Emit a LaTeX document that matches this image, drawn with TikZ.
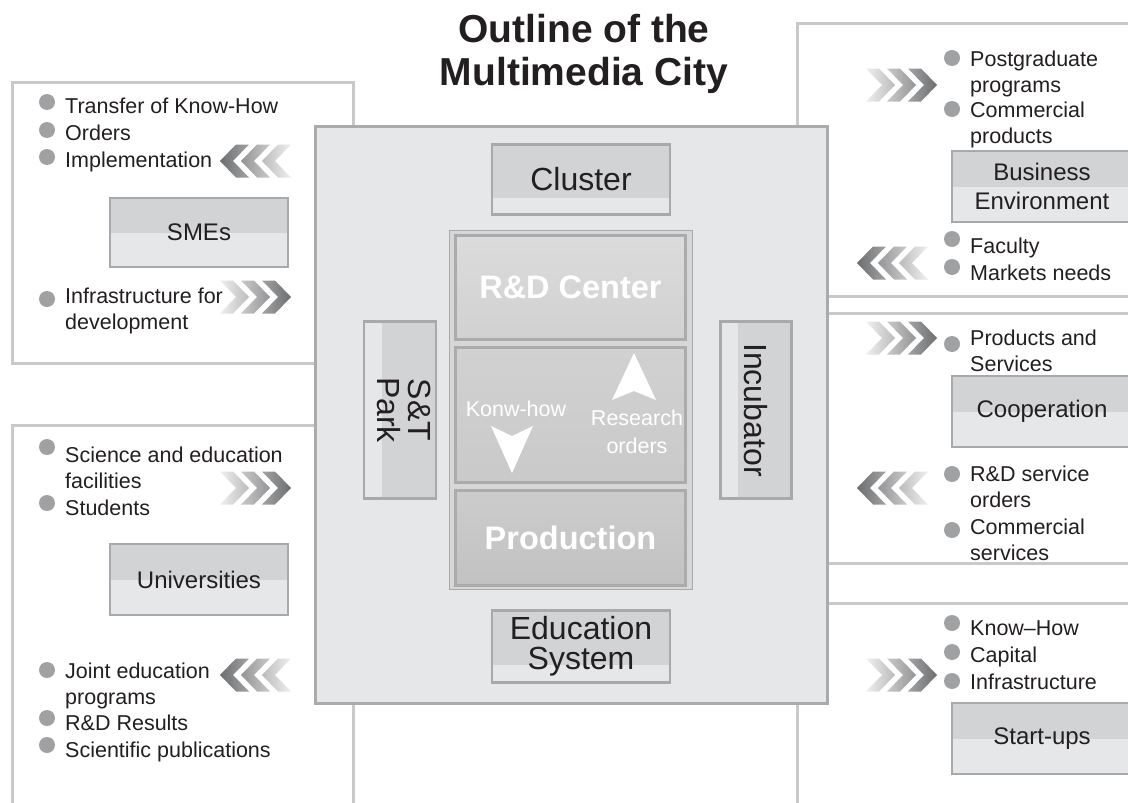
\documentclass[tikz,border=0pt]{standalone}
\usepackage{fontspec}
\setmainfont{Liberation Sans}
\usepackage{graphicx}
\usetikzlibrary{calc,positioning}

\definecolor{inkblack}{HTML}{231F20}
\definecolor{framegray}{HTML}{C8C9CA}
\definecolor{boxline}{HTML}{A7A9AC}
\definecolor{boxup}{HTML}{D1D3D4}
\definecolor{boxlow}{HTML}{E6E7E8}
\definecolor{cityfill}{HTML}{E6E7E8}
\definecolor{panelgray}{HTML}{D7D7D8}
\definecolor{coreline}{HTML}{ABABAB}
\definecolor{bulletgray}{HTML}{A0A1A3}
\definecolor{chevdark}{HTML}{6D6E70}

% bullet item: [bullet offset]{name}{x}{first baseline}{text}
\newcommand{\bitem}[5][10]{%
	\fill[bulletgray] (#3-18,#4-#1) circle[radius=8pt];
	\node[itemtext] (#2) at (#3,#4) {\begin{tabular}[t]{@{}l@{}}#5\end{tabular}};}
\newcommand{\chevright}[2]{%
	\shade[left color=white!94!black, right color=chevdark]
	\foreach \k in {0,21,42} {(#1+\k,#2-16.5) -- (#1+\k+13,#2-16.5) -- (#1+\k+29,#2) -- (#1+\k+13,#2+16.5) -- (#1+\k,#2+16.5) -- (#1+\k+16,#2) -- cycle};}
\newcommand{\chevleft}[2]{%
	\shade[left color=chevdark, right color=white!94!black]
	\foreach \k in {0,21,42} {(#1+\k+16,#2-16.5) -- (#1+\k+29,#2-16.5) -- (#1+\k+13,#2) -- (#1+\k+29,#2+16.5) -- (#1+\k+16,#2+16.5) -- (#1+\k,#2) -- cycle};}

\begin{document}
\begin{tikzpicture}[x=1pt, y=-1pt]

	\tikzset{
		itemtext/.style = {anchor=base west, inner sep=0, text=inkblack,
			font=\fontsize{21.5}{26.5}\selectfont},
		grpframe/.style = {draw=framegray, line width=3pt, fill=white},
		lblbox/.style = {rectangle, draw=boxline, line width=2.5pt, fill=boxlow, inner sep=0, outer sep=0,
			text=inkblack, align=center, font=\fontsize{24}{29}\selectfont,
			path picture={\fill[boxup] (path picture bounding box.north west) rectangle
				($(path picture bounding box.south east)!#1!(path picture bounding box.north east)$);}},
		lblbox/.default = 0.5,
		vlblbox/.style = {rectangle, draw=boxline, line width=2.5pt, fill=boxlow, inner sep=0, outer sep=0,
			text=inkblack, font=\fontsize{32}{28}\selectfont,
			path picture={\fill[boxup] ($(path picture bounding box.south west)!0.25!(path picture bounding box.south east)$)
				rectangle (path picture bounding box.north east);}},
		corebox/.style = {rectangle, draw=coreline, line width=3pt, inner sep=0, outer sep=0,
			minimum width=230pt, text=white, font=\fontsize{32.5}{34}\bfseries\selectfont},
		whitelbl/.style = {text=white, align=center, inner sep=0, font=\fontsize{21.5}{28}\selectfont}
	}

	\useasboundingbox (0,0) rectangle (1128,803);
	\clip (0,0) rectangle (1128,803);

	% group frames
	\draw[grpframe] (12,82) rectangle (353,363);
	\draw[grpframe] (12,425) rectangle (353,830);
	\draw[grpframe] (797,23) rectangle (1140,296);
	\draw[grpframe] (797,313) rectangle (1140,563);
	\draw[grpframe] (797,603) rectangle (1140,830);

	% the city
	\draw[fill=cityfill, draw=coreline, line width=3pt] (315,126) rectangle (827,703);

	\node[lblbox=0.23, minimum width=178pt, minimum height=70pt, font=\fontsize{32}{30}\selectfont] (cluster) at (581,179.5) {Cluster};
	\node[lblbox=0.25, minimum width=178pt, minimum height=72pt, font=\fontsize{32}{30}\selectfont] (edusys) at (581,646.7) {Education\\System};
	\node[vlblbox, minimum width=72pt, minimum height=177pt] (stpark) at (400,410)
		{\rotatebox{-90}{\begin{tabular}{@{}c@{}}S\&T\\Park\end{tabular}}};
	\node[vlblbox, minimum width=71pt, minimum height=177pt] (incub) at (756,410)
		{\rotatebox{-90}{Incubator}};

	\draw[fill=panelgray, draw=boxline, line width=1pt] (449,230) rectangle (692,589);
	\node[corebox, top color=white!86!black, bottom color=white!82!black, minimum height=104pt] (rd) at (570.5,287) {\raisebox{-4pt}{R\&D Center}};
	\node[corebox, top color=white!82!black, bottom color=white!79!black, minimum height=135pt] (mid) [below=8pt of rd] {};
	\node[corebox, top color=white!80!black, bottom color=white!76!black, minimum height=95pt] (prod) [below=8pt of mid] {\raisebox{-5pt}{Production}};

	\fill[white] (491,426) -- (512,436) -- (533,426) -- (512,473) -- cycle;
	\fill[white] (612,400) -- (634,391) -- (656,400) -- (634,353) -- cycle;
	\node[whitelbl] (knowhow) at (516,409) {Konw-how};
	\node[whitelbl] (resorders) at (637,432) {Research\\orders};

	\node[text=inkblack, anchor=base, align=center, inner sep=0, font=\fontsize{39}{43}\bfseries\selectfont] (title) at (584,85) {Outline of the\\Multimedia City};

	% partners
	\node[lblbox, minimum width=178pt, minimum height=69pt] (smes) at (199,232.5) {SMEs};
	\node[lblbox, minimum width=178pt, minimum height=71pt] (univ) at (199,579.5) {Universities};
	\node[lblbox, minimum width=180pt, minimum height=71pt] (busenv) at (1042,186.5) {Business\\Environment};
	\node[lblbox, minimum width=180pt, minimum height=71pt] (coop) at (1042,411.5) {Cooperation};
	\node[lblbox, minimum width=180pt, minimum height=71pt] (startups) at (1042,738.5) {Start-ups};

	\bitem[11]{knowtransfer}{65}{113}{Transfer of Know-How}
	\bitem[10]{smeorders}{65}{140}{Orders}
	\bitem[10]{implem}{65}{167}{Implementation}
	\bitem[4]{infradev}{65}{303}{Infrastructure for\\development}

	\bitem[15]{scifac}{65}{462}{Science and education\\facilities}
	\bitem[12]{students}{65}{515}{Students}
	\bitem[8]{jointedu}{65}{678}{Joint education\\programs}
	\bitem[12]{rdresults}{65}{730}{R\&D Results}
	\bitem[12]{scipub}{65}{757}{Scientific publications}

	\bitem[8]{postgrad}{970}{66}{Postgraduate\\programs}
	\bitem[8]{commprod}{970}{117}{Commercial\\products}
	\bitem[14]{faculty}{970}{253}{Faculty}
	\bitem[13]{markets}{970}{280}{Markets needs}

	\bitem[1]{prodserv}{970}{345}{Products and\\Services}
	\bitem[7]{rdorders}{970}{481}{R\&D service\\orders}
	\bitem[4]{commserv}{970}{534}{Commercial\\services}

	\bitem[12]{knowhowsu}{970}{635}{Know--How}
	\bitem[10]{capital}{970}{662}{Capital}
	\bitem[8]{infra}{970}{689}{Infrastructure}

	% flows
	\chevleft{220}{161}
	\chevright{220}{297}
	\chevright{220}{488}
	\chevleft{220}{675}
	\chevright{866}{85}
	\chevleft{857}{263}
	\chevright{866}{338}
	\chevleft{857}{488}
	\chevright{866}{675}

\end{tikzpicture}
\end{document}
